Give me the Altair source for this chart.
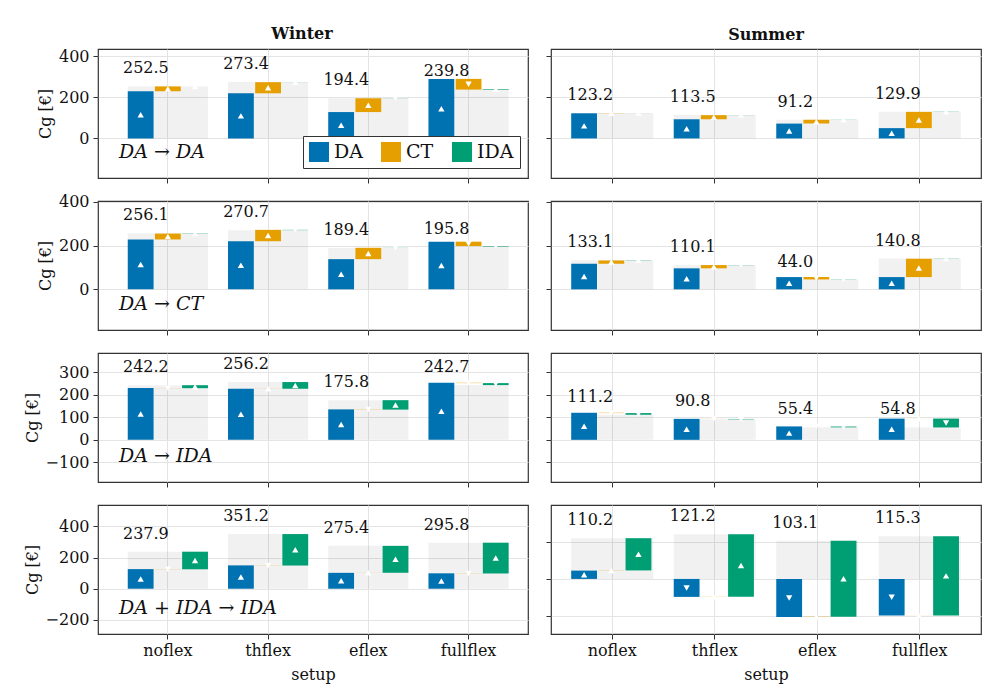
import altair as alt
import pandas as pd

setups = ["noflex", "thflex", "eflex", "fullflex"]
series = ["DA", "CT", "IDA"]
colors = ["#0072b2", "#e69f00", "#009e73"]
seasons = ["Winter", "Summer"]
strategies = ["DA → DA", "DA → CT", "DA → IDA", "DA + IDA → IDA"]

# DA -> DA
w1_da = [229.0, 219.0, 128.0, 289.0]
w1_ct = [23.5, 54.0, 67.0, -52.0]
w1_ida = [0.0, 0.4, -0.6, 2.8]
w1_tot = [252.5, 273.4, 194.4, 239.8]
s1_da = [122.0, 93.0, 72.0, 50.0]
s1_ct = [1.0, 20.0, 18.5, 79.0]
s1_ida = [0.2, 0.5, 0.7, 0.9]
s1_tot = [123.2, 113.5, 91.2, 129.9]
# DA -> CT
w2_da = [228.0, 220.0, 138.0, 218.0]
w2_ct = [27.0, 52.0, 52.0, -20.0]
w2_ida = [1.1, -1.3, -0.6, -2.2]
w2_tot = [256.1, 270.7, 189.4, 195.8]
s2_da = [117.0, 96.0, 56.0, 56.0]
s2_ct = [15.0, 15.0, -11.0, 84.0]
s2_ida = [1.1, -0.9, -1.0, 0.8]
s2_tot = [133.1, 110.1, 44.0, 140.8]
# DA -> IDA
w3_da = [229.5, 226.0, 135.0, 253.0]
w3_ct = [-0.5, 0.5, -1.0, -1.5]
w3_ida = [13.2, 29.7, 41.8, -8.8]
w3_tot = [242.2, 256.2, 175.8, 242.7]
s3_da = [120.0, 93.0, 59.5, 94.0]
s3_ct = [-1.5, -0.4, -0.6, 0.3]
s3_ida = [-7.3, -1.8, -3.5, -39.5]
s3_tot = [111.2, 90.8, 55.4, 54.8]
# DA + IDA -> IDA
w4_da = [126.0, 150.0, 102.0, 99.0]
w4_ct = [-1.0, -1.0, 0.5, -1.0]
w4_ida = [112.9, 202.2, 172.9, 197.8]
w4_tot = [237.9, 351.2, 275.4, 295.8]
s4_da = [22.5, -48.6, -102.7, -99.0]
s4_ct = [0.5, 0.4, 0.3, 0.2]
s4_ida = [87.2, 169.4, 205.5, 214.1]
s4_tot = [110.2, 121.2, 103.1, 115.3]

DATA = [
    [(w1_da, w1_ct, w1_ida, w1_tot), (s1_da, s1_ct, s1_ida, s1_tot)],
    [(w2_da, w2_ct, w2_ida, w2_tot), (s2_da, s2_ct, s2_ida, s2_tot)],
    [(w3_da, w3_ct, w3_ida, w3_tot), (s3_da, s3_ct, s3_ida, s3_tot)],
    [(w4_da, w4_ct, w4_ida, w4_tot), (s4_da, s4_ct, s4_ida, s4_tot)],
]

y_domains = [
    [[-192, 434], [-192, 434]],
    [[-186, 404], [-186, 404]],
    [[-187, 385], [-187, 385]],
    [[-291, 538], [-149, 200]],
]
y_ticks = [
    [[0, 200, 400], [0, 200, 400]],
    [[0, 200, 400], [0, 200, 400]],
    [[-100, 0, 100, 200, 300], [-100, 0, 100, 200, 300]],
    [[-200, 0, 200, 400], [-100, 0, 100]],
]

FONT = "DejaVu Serif"
W, H = 430, 129


def panel(r, s):
    da, ct, ida, tot = DATA[r][s]
    rows = []
    for i, su in enumerate(setups):
        start = 0.0
        for name, v in zip(series, [da[i], ct[i], ida[i]]):
            end = start + v
            rows.append(dict(setup=su, series=name, start=start, end=end,
                             mid=(start + end) / 2, dir="up" if v >= 0 else "down"))
            start = end
    bars = pd.DataFrame(rows)
    totals = pd.DataFrame(dict(setup=setups, total=tot, zero=[0.0] * 4,
                               label=[f"{t:.1f}" for t in tot]))

    if s == 0:
        xs = alt.Scale(domain=setups, paddingInner=0.2, paddingOuter=0.245, align=0.606)
    else:
        xs = alt.Scale(domain=setups, paddingInner=0.2, paddingOuter=0.197, align=0.5)
    bottom = r == 3
    xaxis = alt.Axis(labels=bottom, grid=True, bandPosition=0.5, labelAngle=0,
                     title="setup" if bottom else None)
    xtitle = "setup" if bottom else None

    ys = alt.Scale(domain=y_domains[r][s], nice=False, zero=False)
    yaxis = alt.Axis(values=y_ticks[r][s], labels=(s == 0), grid=True,
                     title="Cg [€]" if s == 0 else None)
    ytitle = "Cg [€]" if s == 0 else None

    def X():
        return alt.X("setup:N", scale=xs, axis=xaxis, title=xtitle, sort=setups)

    def Y(field):
        return alt.Y(field, scale=ys, axis=yaxis, title=ytitle)

    gray = alt.Chart(totals).mark_bar(color="#000000", opacity=0.055).encode(
        x=X(), y=Y("zero:Q"), y2="total:Q")

    legend = None
    if r == 0 and s == 0:
        legend = alt.Legend(title=None, orient="none", legendX=205, legendY=87,
                            direction="horizontal", columns=3, symbolType="square",
                            symbolSize=400, symbolStrokeWidth=0, labelFont=FONT,
                            labelFontSize=19, labelOffset=5, columnPadding=18,
                            padding=6, strokeColor="#333333", fillColor="white",
                            labelColor="#111111")
    colored = alt.Chart(bars).mark_bar().encode(
        x=X(), y=Y("start:Q"), y2="end:Q",
        xOffset=alt.XOffset("series:N", sort=series,
                            scale=alt.Scale(domain=series, paddingInner=0.05, paddingOuter=0)),
        color=alt.Color("series:N", scale=alt.Scale(domain=series, range=colors), legend=legend),
    )
    tri = alt.Chart(bars).mark_point(filled=True, opacity=1, size=40, color="white").encode(
        x=X(), y=Y("mid:Q"),
        xOffset=alt.XOffset("series:N", sort=series,
                            scale=alt.Scale(domain=series, paddingInner=0.05, paddingOuter=0)),
        shape=alt.Shape("dir:N", scale=alt.Scale(domain=["up", "down"],
                                                 range=["triangle-up", "triangle-down"]),
                        legend=None),
    )
    txt = alt.Chart(totals).mark_text(font=FONT, fontSize=16, baseline="alphabetic",
                                      align="center", dx=-22, dy=-13, color="#111111").encode(
        x=X(), y=Y("total:Q"), text="label:N")

    layers = [gray, colored, tri, txt]
    if s == 0:
        ann = alt.Chart(pd.DataFrame({"t": [strategies[r]]})).mark_text(
            font=FONT, fontSize=19, fontStyle="italic", align="left", baseline="alphabetic",
            color="#111111").encode(x=alt.value(21), y=alt.value(109), text="t:N")
        layers.append(ann)

    ch = alt.layer(*layers).properties(width=W, height=H)
    if r == 0:
        ch = ch.properties(title=alt.TitleParams(
            text=seasons[s], font=FONT, fontSize=16, fontWeight="bold", offset=-7,
            baseline="alphabetic", frame="group", anchor="middle",
            dx=-11 if s == 0 else 0, color="#111111"))
    return ch


panels = [panel(r, s) for r in range(4) for s in range(2)]

chart = alt.concat(*panels, columns=2, spacing={"row": 23, "column": 23},
                   bounds="flush").resolve_scale(
    color="independent", shape="independent").resolve_legend(color="independent").properties(
    padding={"left": 15, "top": 17, "right": 5, "bottom": 5}
).configure_view(stroke="#333333", strokeWidth=1.2).configure_axis(
    domain=False, gridColor="#e4e4e4", gridWidth=1, tickColor="#333333", tickSize=5,
    labelFont=FONT, labelFontSize=16, labelColor="#111111", labelPadding=4,
    titleFont=FONT, titleFontSize=16, titleFontWeight="normal", titleColor="#111111",
    titlePadding=5
).configure_axisX(labelPadding=3, titlePadding=8)

chart.save("out.html", embed_options={"renderer": "svg", "actions": False})
